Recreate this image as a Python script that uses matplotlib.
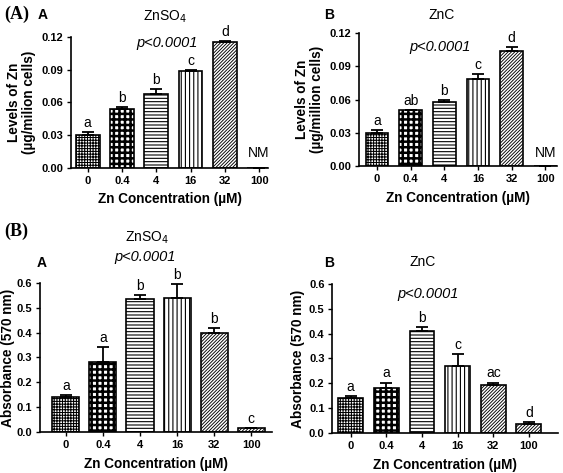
import matplotlib
matplotlib.use('Agg')
from matplotlib import pyplot as plt
import numpy as np

plt.rcParams['font.family'] = ['Liberation Sans', 'DejaVu Sans']

conc = ['0', '0.4', '4', '16', '32', '100']

# (A) zinc levels
zn_so4_level = [0.030, 0.054, 0.0675, 0.0885, 0.115, 0.0]
zn_so4_level_err = [0.0025, 0.0018, 0.0045, 0.0012, 0.001, 0.0]
zn_so4_level_sig = ['a', 'b', 'b', 'c', 'd', '']

znc_level = [0.030, 0.0505, 0.058, 0.0785, 0.104, 0.0]
znc_level_err = [0.0025, 0.0004, 0.0012, 0.0045, 0.0035, 0.0]
znc_level_sig = ['a', 'ab', 'b', 'c', 'd', '']

# (B) absorbance
zn_so4_abs = [0.141, 0.280, 0.536, 0.540, 0.398, 0.015]
zn_so4_abs_err = [0.008, 0.062, 0.014, 0.057, 0.020, 0.0]
zn_so4_abs_sig = ['a', 'a', 'b', 'b', 'b', 'c']

znc_abs = [0.141, 0.183, 0.410, 0.271, 0.194, 0.036]
znc_abs_err = [0.009, 0.020, 0.017, 0.047, 0.009, 0.009]
znc_abs_sig = ['a', 'a', 'b', 'c', 'ac', 'd']

hatches = ['++++++', '+++', '-----', '||||', '//////////', '//////////']
hatch_lw = [0.75, 1.8, 0.8, 0.8, 0.65, 0.65]


def panel(ax, vals, errs, sig, width, xlim, ylim, yticks, yfmt, ylabel, lpad):
    x = np.arange(len(vals))
    bars = ax.bar(x, vals, width, color='white', edgecolor='black', linewidth=1.2)
    for b, h, lw in zip(bars, hatches, hatch_lw):
        b.set_hatch(h)
        if hasattr(b, 'set_hatch_linewidth'):
            b.set_hatch_linewidth(lw)
    ax.errorbar(x, vals, yerr=[np.zeros(len(vals)), errs], fmt='none',
                ecolor='black', elinewidth=1.3, capsize=4.5, capthick=1.3)
    for xi, v, e, s in zip(x, vals, errs, sig):
        if s:
            ax.annotate(s, (xi, v + e), xytext=(0, 1.5), textcoords='offset points',
                        ha='center', va='bottom', fontsize=10)
    ax.set_xlim(*xlim)
    ax.set_ylim(*ylim)
    ax.set_xticks(x)
    ax.set_xticklabels(conc, fontweight='bold', fontsize=8)
    ax.set_yticks(yticks)
    ax.set_yticklabels([yfmt % t for t in yticks], fontweight='bold', fontsize=8)
    ax.spines['top'].set_visible(False)
    ax.spines['right'].set_visible(False)
    ax.spines['left'].set_linewidth(1.2)
    ax.spines['bottom'].set_linewidth(1.2)
    ax.tick_params(width=1.0, length=3, pad=2.5)
    ax.set_xlabel('Zn Concentration (\u00b5M)', fontweight='bold', fontsize=9.8, labelpad=5)
    ax.set_ylabel(ylabel, fontweight='bold', fontsize=9.8, linespacing=1.1, labelpad=lpad)


fig = plt.figure(figsize=(5.63, 4.73), dpi=100)

ax1 = fig.add_axes([0.126, 0.645, 0.350, 0.277])
panel(ax1, zn_so4_level, zn_so4_level_err, zn_so4_level_sig, 0.69, (-0.49, 5.26),
      (0, 0.12), [0, 0.03, 0.06, 0.09, 0.12], '%.2f',
      'Levels of Zn\n(\u00b5g/milion cells)', 4)
ax1.annotate('NM', (5, 0), xytext=(0, 6), textcoords='offset points',
             ha='center', va='bottom', fontsize=10)

ax2 = fig.add_axes([0.638, 0.649, 0.352, 0.281])
panel(ax2, znc_level, znc_level_err, znc_level_sig, 0.68, (-0.53, 5.36),
      (0, 0.12), [0, 0.03, 0.06, 0.09, 0.12], '%.2f',
      'Levels of Zn\n(\u00b5g/million cells)', 4)
ax2.annotate('NM', (5, 0), xytext=(0, 4), textcoords='offset points',
             ha='center', va='bottom', fontsize=10)

ax3 = fig.add_axes([0.071, 0.0867, 0.412, 0.315])
panel(ax3, zn_so4_abs, zn_so4_abs_err, zn_so4_abs_sig, 0.73, (-0.7, 5.56),
      (0, 0.6), [0, 0.1, 0.2, 0.3, 0.4, 0.5, 0.6], '%.1f', 'Absorbance (570 nm)', 1)

ax4 = fig.add_axes([0.590, 0.0846, 0.402, 0.315])
panel(ax4, znc_abs, znc_abs_err, znc_abs_sig, 0.70, (-0.52, 5.83),
      (0, 0.6), [0, 0.1, 0.2, 0.3, 0.4, 0.5, 0.6], '%.1f', 'Absorbance (570 nm)', 3)

# panel labels and titles (figure pixel coords -> fractions)
W, H = 563.0, 473.0


def ftext(px, py, s, **kw):
    fig.text(px / W, 1 - py / H, s, **kw)


ftext(4, 14, '(A)', family='Liberation Serif', fontweight='bold', fontsize=13, va='center')
ftext(4, 231, '(B)', family='Liberation Serif', fontweight='bold', fontsize=13, va='center')

ftext(43, 15, 'A', fontweight='bold', fontsize=10, ha='center', va='center')
ftext(329, 15, 'B', fontweight='bold', fontsize=10, ha='center', va='center')
ftext(42, 263, 'A', fontweight='bold', fontsize=10, ha='center', va='center')
ftext(329, 263, 'B', fontweight='bold', fontsize=10, ha='center', va='center')

ftext(165, 17, 'ZnSO$_4$', fontsize=10, ha='center', va='center')
ftext(442, 15, 'ZnC', fontsize=10, ha='center', va='center')
ftext(147, 238, 'ZnSO$_4$', fontsize=10, ha='center', va='center')
ftext(423, 262, 'ZnC', fontsize=10, ha='center', va='center')

ftext(167, 43, 'p<0.0001', fontstyle='italic', fontsize=10.5, ha='center', va='center')
ftext(440, 47, 'p<0.0001', fontstyle='italic', fontsize=10.5, ha='center', va='center')
ftext(145, 257, 'p<0.0001', fontstyle='italic', fontsize=10.5, ha='center', va='center')
ftext(428, 294, 'p<0.0001', fontstyle='italic', fontsize=10.5, ha='center', va='center')

fig.savefig('out.png', dpi=100)
